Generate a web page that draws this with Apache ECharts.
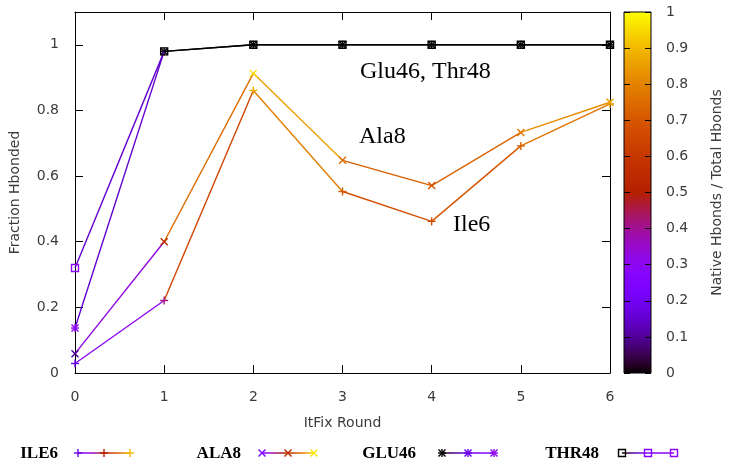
<!DOCTYPE html>
<html>
<head>
<meta charset="utf-8">
<script src="https://cdn.jsdelivr.net/npm/echarts@6/dist/echarts.min.js"></script>
<style>html,body{margin:0;padding:0;background:#fff;}#chart{width:729px;height:466px;}</style>
</head>
<body>
<div id="chart"></div>
<script>
// ---- data ----
const rounds = [0, 1, 2, 3, 4, 5, 6];
const ile6 = [0.029, 0.221, 0.861, 0.553, 0.462, 0.692, 0.820];
const ile6Native = [0.18, 0.42, 0.88, 0.70, 0.66, 0.72, 0.82];
const ala8 = [0.059, 0.400, 0.913, 0.648, 0.571, 0.733, 0.825];
const ala8Native = [0.10, 0.55, 0.95, 0.76, 0.68, 0.78, 0.86];
const glu46 = [0.137, 0.980, 1.0, 1.0, 1.0, 1.0, 1.0];
const glu46Native = [0.30, 0.0, 0.0, 0.0, 0.0, 0.0, 0.0];
const thr48 = [0.320, 0.980, 1.0, 1.0, 1.0, 1.0, 1.0];
const thr48Native = [0.30, 0.0, 0.0, 0.0, 0.0, 0.0, 0.0];
const seriesNames = ['ILE6', 'ALA8', 'GLU46', 'THR48'];
const legendNative = [[0.18, 0.50, 0.90], [0.25, 0.55, 0.97], [0.0, 0.18, 0.30], [0.0, 0.25, 0.30]];
const yTicks = [0, 0.2, 0.4, 0.6, 0.8, 1.0];
const cbTicks = [0, 0.1, 0.2, 0.3, 0.4, 0.5, 0.6, 0.7, 0.8, 0.9, 1.0];
const annotations = ['Glu46, Thr48', 'Ala8', 'Ile6'];

// gnuplot palette rgbformulae 7,5,15
function pal(x) {
  x = Math.max(0, Math.min(1, x));
  const r = Math.sqrt(x), g = x * x * x, b = Math.max(0, Math.sin(2 * Math.PI * x));
  return 'rgb(' + Math.round(r * 255) + ',' + Math.round(g * 255) + ',' + Math.round(b * 255) + ')';
}
function palStops(a, b, n) {
  const s = [];
  for (let i = 0; i <= n; i++) s.push({offset: i / n, color: pal(a + (b - a) * i / n)});
  return s;
}

const LW = 1.4;
function markerShapes(kind, p, color) {
  const x = p[0], y = p[1];
  const st = {stroke: color, lineWidth: LW, fill: null};
  const out = [];
  const plus = () => {
    out.push({type: 'line', shape: {x1: x - 4, y1: y, x2: x + 4, y2: y}, style: st});
    out.push({type: 'line', shape: {x1: x, y1: y - 4, x2: x, y2: y + 4}, style: st});
  };
  const cross = () => {
    out.push({type: 'line', shape: {x1: x - 3.5, y1: y - 3.5, x2: x + 3.5, y2: y + 3.5}, style: st});
    out.push({type: 'line', shape: {x1: x - 3.5, y1: y + 3.5, x2: x + 3.5, y2: y - 3.5}, style: st});
  };
  if (kind === 'plus') plus();
  else if (kind === 'cross') cross();
  else if (kind === 'star') { plus(); cross(); }
  else if (kind === 'square') {
    out.push({type: 'rect', shape: {x: x - 3.5, y: y - 3.5, width: 7, height: 7}, style: {stroke: color, lineWidth: LW, fill: 'rgba(0,0,0,0)'}});
  }
  return out;
}

function makeSeries(name, ys, cs, marker) {
  return {
    type: 'custom', name: name, xAxisIndex: 0, yAxisIndex: 0,
    data: rounds.map((x, i) => [x, ys[i], cs[i]]),
    renderItem: function (params, api) {
      const i = params.dataIndex;
      const p = api.coord([api.value(0), api.value(1)]);
      const children = [];
      if (i < rounds.length - 1) {
        const q = api.coord([rounds[i + 1], ys[i + 1]]);
        children.push({type: 'line', shape: {x1: p[0], y1: p[1], x2: q[0], y2: q[1]},
          style: {stroke: pal((cs[i] + cs[i + 1]) / 2), lineWidth: LW}});
      }
      markerShapes(marker, p, pal(cs[i])).forEach(c => children.push(c));
      return {type: 'group', children: children};
    }
  };
}

const FONT = '"DejaVu Sans", sans-serif';
const labelColor = '#3c3c3c';

// legend via graphic
const legendTextRight = [58, 241, 416, 599];
const legendLineLeft = [78, 262, 442, 622];
const legendMarkers = ['plus', 'cross', 'star', 'square'];
const LY = 453, LLEN = 52;
const graphics = [];
seriesNames.forEach((n, k) => {
  graphics.push({type: 'text', style: {text: n, x: legendTextRight[k], y: LY + 1, textAlign: 'right', textVerticalAlign: 'middle',
    font: 'bold 17px "Liberation Serif", serif', fill: '#000'}});
  const c = legendNative[k];
  const x0 = legendLineLeft[k], x1 = x0 + LLEN;
  graphics.push({type: 'line', shape: {x1: x0, y1: LY, x2: x1, y2: LY},
    style: {lineWidth: LW, stroke: {type: 'linear', x: x0, y: 0, x2: x1, y2: 0, global: true,
      colorStops: palStops(c[0], c[1], 10).map(s => ({offset: s.offset / 2, color: s.color}))
        .concat(palStops(c[1], c[2], 10).map(s => ({offset: 0.5 + s.offset / 2, color: s.color})))}}});
  [0, 1, 2].forEach(j => {
    markerShapes(legendMarkers[k], [x0 + j * LLEN / 2, LY], pal(c[j])).forEach(g => graphics.push(g));
  });
});
// annotations
const annPos = [[360, 72], [359, 137], [453, 225]];
annotations.forEach((t, k) => {
  graphics.push({type: 'text', style: {text: t, x: annPos[k][0], y: annPos[k][1], textVerticalAlign: 'middle',
    font: '24px "Liberation Serif", serif', fill: '#000'}});
});

const tickStyle = {color: '#000', width: 1};
const frameLine = {onZero: false, lineStyle: {color: '#000', width: 1}};
const option = {
  animation: false,
  backgroundColor: '#fff',
  grid: [
    {left: 73, right: 119, top: 12, bottom: 93},
    {left: 624, width: 27, top: 12, height: 361}
  ],
  xAxis: [
    {gridIndex: 0, type: 'value', position: 'bottom', min: 0, max: 6, interval: 1,
      axisLine: frameLine, axisTick: {inside: true, length: 8, lineStyle: tickStyle},
      splitLine: {show: false},
      axisLabel: {margin: 17, fontFamily: FONT, fontSize: 14, color: labelColor},
      name: 'ItFix Round', nameLocation: 'middle', nameGap: 43,
      nameTextStyle: {fontFamily: FONT, fontSize: 14, color: labelColor}},
    {gridIndex: 0, type: 'value', position: 'top', min: 0, max: 6, interval: 1,
      axisLine: frameLine, axisTick: {inside: true, length: 8, lineStyle: tickStyle},
      splitLine: {show: false}, axisLabel: {show: false}},
    {gridIndex: 1, type: 'value', min: 0, max: 1, show: false}
  ],
  yAxis: [
    {gridIndex: 0, type: 'value', position: 'left', min: 0, max: 1.1, interval: 0.2,
      axisLine: frameLine, axisTick: {inside: true, length: 8, lineStyle: tickStyle},
      splitLine: {show: false},
      axisLabel: {margin: 16, fontFamily: FONT, fontSize: 14, color: labelColor, showMaxLabel: false,
        formatter: v => (yTicks.some(t => Math.abs(t - v) < 1e-9) ? String(+v.toFixed(1)) : '')},
      name: 'Fraction Hbonded', nameLocation: 'middle', nameGap: 53,
      nameTextStyle: {fontFamily: FONT, fontSize: 14, color: labelColor}},
    {gridIndex: 0, type: 'value', position: 'right', min: 0, max: 1.1, interval: 0.2,
      axisLine: frameLine, axisTick: {inside: true, length: 8, lineStyle: tickStyle},
      splitLine: {show: false}, axisLabel: {show: false}},
    {gridIndex: 1, type: 'value', position: 'right', min: 0, max: 1, interval: 0.1, z: 10,
      axisLine: {show: false, onZero: false}, axisTick: {inside: true, length: 6, lineStyle: tickStyle},
      splitLine: {show: false},
      axisLabel: {margin: 15, fontFamily: FONT, fontSize: 14, color: labelColor,
        formatter: v => (cbTicks.some(t => Math.abs(t - v) < 1e-9) ? String(+v.toFixed(1)) : '')},
      name: 'Native Hbonds / Total Hbonds', nameLocation: 'middle', nameGap: 59, nameRotate: 90,
      nameTextStyle: {fontFamily: FONT, fontSize: 14, color: labelColor}},
    {gridIndex: 1, type: 'value', position: 'left', min: 0, max: 1, interval: 0.1, z: 10,
      axisLine: {show: false, onZero: false}, axisTick: {inside: true, length: 6, lineStyle: tickStyle},
      splitLine: {show: false}, axisLabel: {show: false}}
  ],
  series: [
    {
      type: 'custom', xAxisIndex: 2, yAxisIndex: 2, z: 1, silent: true,
      data: [[0, 0]],
      renderItem: function (params, api) {
        const a = api.coord([0, 1]), b = api.coord([1, 0]);
        return {type: 'rect', shape: {x: a[0], y: a[1], width: b[0] - a[0], height: b[1] - a[1]},
          style: {fill: new echarts.graphic.LinearGradient(0, 1, 0, 0, palStops(0, 1, 40)), stroke: '#000', lineWidth: 1}};
      }
    },
    makeSeries('ILE6', ile6, ile6Native, 'plus'),
    makeSeries('ALA8', ala8, ala8Native, 'cross'),
    makeSeries('GLU46', glu46, glu46Native, 'star'),
    makeSeries('THR48', thr48, thr48Native, 'square')
  ],
  graphic: {elements: graphics}
};
const chart = echarts.init(document.getElementById('chart'), null, {renderer: 'canvas'});
chart.setOption(option);
</script>
</body>
</html>
